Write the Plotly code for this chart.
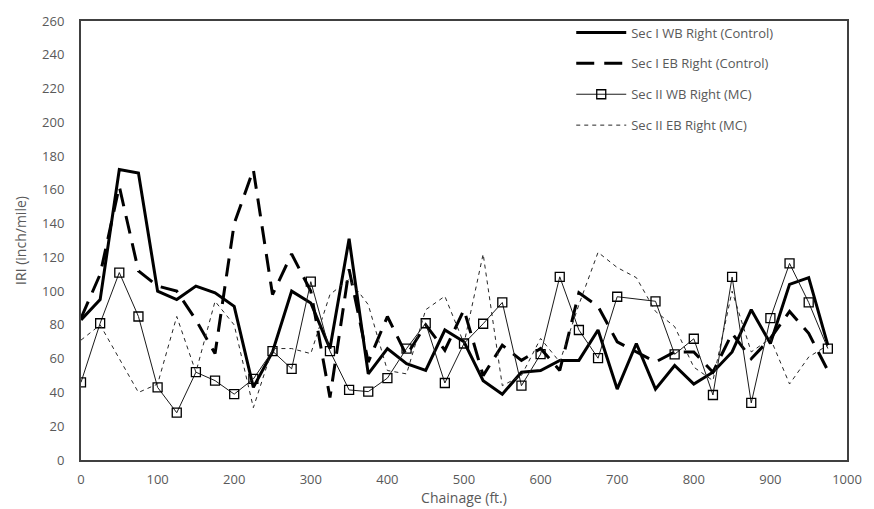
import plotly.graph_objects as go

chainage = [0, 25, 50, 75, 100, 125, 150, 175, 200, 225, 250, 275, 300, 325, 350, 375, 400, 425, 450, 475,
            500, 525, 550, 575, 600, 625, 650, 675, 700, 725, 750, 775, 800, 825, 850, 875, 900, 925, 950, 975]

sec1_wb = [83, 95, 172, 170, 100, 95, 103, 99, 91, 43, 64, 100, 93, 66, 131, 51, 66, 57, 53, 77,
           70, 47, 39, 52, 53, 59, 59, 77, 42, 69, 42, 56, 45, 52, 64, 89, 69, 104, 108, 68]

sec1_eb = [84, 110, 162, 112, 103, 100, 83, 63, 140, 172, 98, 122, 100, 37, 113, 58, 85, 62, 80, 65,
           89, 50, 68, 59, 66, 53, 99, 91, 70, 64, 58, 64, 64, 52, 75, 60, 72, 88, 75, 53]

sec2_wb = [46, 81, 111, 85, 43, 28, 52, 47, 39, 48, 64.5, 54, 105.6, 64.5, 41.5, 40.5, 48.5, 66, 81, 45.6,
           69, 80.7, 93.3, 44, 62.7, 108.5, 77, 60.3, 96.7, None, 94, 62.6, 71.8, 38.5, 108.4, 33.8, 84, 116.4, 93.3, 66]

sec2_eb = [71, 80, 60, 40, 45, 85, 52, 94, 80, 31, 66, 66, 63, 98, 107, 92, 53, 51, 89, 97,
           69, 122, 44, 50, 72, 58, 92, 123, 114, 108, 88, 79, 55, 47, 100, 64, 72, 45, 61, 68]

names = ["Sec I WB Right (Control)", "Sec I EB Right (Control)",
         "Sec II WB Right (MC)", "Sec II EB Right (MC)"]

x_ticks = list(range(0, 1001, 100))
y_ticks = list(range(0, 261, 20))

grey = "#595959"
fig = go.Figure()

fig.add_trace(go.Scatter(x=chainage, y=sec1_wb, name=names[0], mode="lines",
                         line=dict(color="black", width=3), legendgroup="a"))
fig.add_trace(go.Scatter(x=chainage, y=sec1_eb, name=names[1], mode="lines",
                         line=dict(color="black", width=3, dash="18px,10px"), legendgroup="b"))
fig.add_trace(go.Scatter(x=chainage, y=sec2_wb, name=names[2], mode="lines+markers",
                         connectgaps=True,
                         line=dict(color="#1a1a1a", width=1),
                         marker=dict(symbol="square-open", size=9, color="black",
                                     line=dict(width=1.3, color="black")),
                         legendgroup="c"))
fig.add_trace(go.Scatter(x=chainage, y=sec2_eb, name=names[3], mode="lines",
                         line=dict(color="#262626", width=1, dash="4px,4px"), legendgroup="d"))

fig.update_layout(
    width=874, height=509,
    margin=dict(l=81, r=18, t=17, b=49),
    paper_bgcolor="white", plot_bgcolor="white",
    font=dict(family="Open Sans", size=13, color=grey),
    showlegend=True,
    legend=dict(x=0.64, y=1.008, xanchor="left", yanchor="top",
                bgcolor="rgba(255,255,255,0)", traceorder="grouped",
                tracegroupgap=11, itemwidth=50,
                font=dict(family="Open Sans", size=13, color=grey)),
)
fig.update_xaxes(range=[0, 1000], tickvals=x_ticks, ticks="", showgrid=False,
                 zeroline=False, showline=True, linecolor="#404040", linewidth=2, mirror=True,
                 ticklabelstandoff=6,
                 tickfont=dict(size=13, color=grey),
                 title=dict(text="Chainage (ft.)", standoff=0, font=dict(size=14, color=grey)))
fig.update_yaxes(range=[0, 260], tickvals=y_ticks, ticks="", showgrid=False,
                 zeroline=False, showline=True, linecolor="#404040", linewidth=2, mirror=True,
                 ticklabelstandoff=12,
                 tickfont=dict(size=13, color=grey),
                 title=dict(text="IRI (inch/mile)", standoff=12, font=dict(size=14, color=grey)))

fig.write_html("out.html")
